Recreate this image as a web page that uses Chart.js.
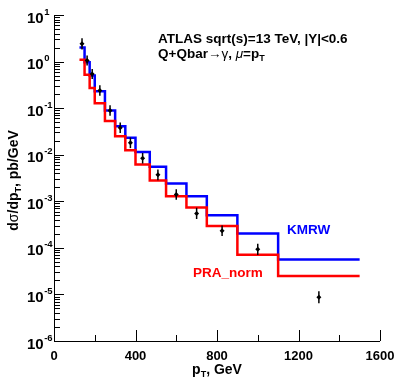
<!DOCTYPE html>
<html>
<head>
<meta charset="utf-8">
<script src="https://cdn.jsdelivr.net/npm/chart.js@4"></script>
<style>
  html, body { margin: 0; padding: 0; background: #fff; }
  #wrap { width: 396px; height: 378px; position: relative; }
</style>
</head>
<body>
<div id="wrap"><canvas id="chart"></canvas></div>
<script>
// bin edges (GeV) of the step histograms
const binEdges = [125, 150, 175, 200, 250, 300, 350, 400, 470, 550, 650, 750, 900, 1100, 1500];
const kmrw = [2.0, 0.97, 0.50, 0.23, 0.089, 0.041, 0.023, 0.0114, 0.0055, 0.0024, 0.00129, 0.0005, 0.000204, 5.6e-5];
const praNorm = [1.1, 0.52, 0.27, 0.128, 0.053, 0.025, 0.0124, 0.0062, 0.0028, 0.00129, 0.00074, 0.000294, 7.1e-5, 2.5e-5];

// ATLAS points
const dataPt = [137.5, 162.5, 187.5, 225, 275, 325, 375, 435, 510, 600, 700, 825, 1000, 1300];
const dataVal = [2.4, 1.05, 0.54, 0.24, 0.089, 0.038, 0.018, 0.0084, 0.0037, 0.0014, 0.00055, 0.000233, 9.3e-5, 8.7e-6];
const dataErr = [0.32, 0.28, 0.28, 0.3, 0.3, 0.3, 0.3, 0.3, 0.3, 0.3, 0.32, 0.3, 0.32, 0.35];

const xTicks = [0, 400, 800, 1200, 1600];
const xMinor = [200, 600, 1000, 1400];
const yDecades = [-6, -5, -4, -3, -2, -1, 0, 1];

const FONT = "'Liberation Sans', Arial, sans-serif";

const stepData = (vals) => binEdges.map((e, i) => ({ x: e, y: vals[Math.min(i, vals.length - 1)] }));

const axesPlugin = {
  id: "rootAxes",
  afterDatasetsDraw(chart) {
    const ctx = chart.ctx;
    const xs = chart.scales.x;
    const ys = chart.scales.y;

    // error bars
    ctx.save();
    ctx.strokeStyle = "#000";
    ctx.lineWidth = 1.5;
    dataPt.forEach((x, i) => {
      const px = xs.getPixelForValue(x);
      const lo = ys.getPixelForValue(dataVal[i] / (1 + dataErr[i]));
      const hi = ys.getPixelForValue(dataVal[i] * (1 + dataErr[i]));
      ctx.beginPath();
      ctx.moveTo(px, lo);
      ctx.lineTo(px, hi);
      ctx.stroke();
    });
    ctx.restore();
  },
  afterDraw(chart) {
    const ctx = chart.ctx;
    const xs = chart.scales.x;
    const ys = chart.scales.y;
    const area = chart.chartArea;
    ctx.save();
    ctx.strokeStyle = "#000";
    ctx.fillStyle = "#000";
    ctx.lineWidth = 1;

    // axis lines
    ctx.beginPath();
    ctx.moveTo(area.left + 0.5, area.top);
    ctx.lineTo(area.left + 0.5, area.bottom + 0.5);
    ctx.lineTo(area.right, area.bottom + 0.5);
    ctx.stroke();

    // x ticks
    ctx.beginPath();
    xTicks.forEach(v => {
      const px = Math.round(xs.getPixelForValue(v)) + 0.5;
      ctx.moveTo(px, area.bottom);
      ctx.lineTo(px, area.bottom - 11);
    });
    xMinor.forEach(v => {
      const px = Math.round(xs.getPixelForValue(v)) + 0.5;
      ctx.moveTo(px, area.bottom);
      ctx.lineTo(px, area.bottom - 6);
    });
    // y ticks (log)
    yDecades.forEach(d => {
      const py = Math.round(ys.getPixelForValue(Math.pow(10, d))) + 0.5;
      ctx.moveTo(area.left, py);
      ctx.lineTo(area.left + 10, py);
      if (d < 1) {
        for (let k = 2; k <= 9; k++) {
          const pm = Math.round(ys.getPixelForValue(k * Math.pow(10, d))) + 0.5;
          ctx.moveTo(area.left, pm);
          ctx.lineTo(area.left + 6, pm);
        }
      }
    });
    ctx.stroke();

    // x labels
    ctx.font = "bold 13px " + FONT;
    ctx.textAlign = "center";
    ctx.textBaseline = "alphabetic";
    xTicks.forEach(v => {
      ctx.fillText(String(v), xs.getPixelForValue(v), 360);
    });

    // y labels 10^n
    yDecades.forEach(d => {
      const py = ys.getPixelForValue(Math.pow(10, d));
      ctx.textAlign = "left";
      ctx.font = "bold 15px " + FONT;
      ctx.fillText("10", 27, py + 7.5);
      const w = ctx.measureText("10").width;
      ctx.font = "bold 9.5px " + FONT;
      ctx.fillText(String(d), 27 + w + 0.5, py - 0.5);
    });

    // x title
    ctx.font = "bold 14px " + FONT;
    ctx.textAlign = "left";
    const pW = ctx.measureText("p").width;
    ctx.font = "bold 9px " + FONT;
    const tW = ctx.measureText("T").width;
    ctx.font = "bold 14px " + FONT;
    const restW = ctx.measureText(", GeV").width;
    const x0 = (area.left + area.right) / 2 - (pW + tW + restW) / 2;
    ctx.fillText("p", x0, 374);
    ctx.font = "bold 9px " + FONT;
    ctx.fillText("T", x0 + pW, 377);
    ctx.font = "bold 14px " + FONT;
    ctx.fillText(", GeV", x0 + pW + tW, 374);

    // y title (rotated)
    ctx.save();
    ctx.translate(18, 180);
    ctx.rotate(-Math.PI / 2);
    const parts = [["d", 14, 0], ["\u03c3", 14, 0], ["/dp", 14, 0], ["T", 9, 3], [", pb/GeV", 14, 0]];
    let total = 0;
    parts.forEach(p => { ctx.font = "bold " + p[1] + "px " + FONT; total += ctx.measureText(p[0]).width; });
    let cx = -total / 2;
    parts.forEach(p => {
      ctx.font = (p[0] === "\u03c3" ? "" : "bold ") + p[1] + "px " + FONT;
      ctx.fillText(p[0], cx, p[2]);
      cx += ctx.measureText(p[0]).width;
    });
    ctx.restore();

    // annotations
    ctx.textAlign = "left";
    ctx.font = "bold 13.5px " + FONT;
    ctx.fillText("ATLAS sqrt(s)=13 TeV, |Y|<0.6", 158, 42.5);
    let ax = 158;
    const seg = [["Q+Qbar", "bold 13.5px ", 0], ["\u2192", "bold 13.5px ", 0], ["\u03b3", "13.5px ", 0], [", ", "bold 13.5px ", 0],
                 ["\u03bc", "italic 13.5px ", 0], ["=p", "bold 13.5px ", 0], ["T", "bold 9px ", 3]];
    seg.forEach(s => {
      ctx.font = s[1] + FONT;
      ctx.fillText(s[0], ax, 58 + s[2]);
      ax += ctx.measureText(s[0]).width;
    });

    ctx.fillStyle = "#0000ff";
    ctx.font = "bold 13.5px " + FONT;
    ctx.fillText("KMRW", 287, 234);
    ctx.fillStyle = "#ff0000";
    ctx.fillText("PRA_norm", 193, 277);
    ctx.restore();
  }
};

new Chart(document.getElementById("chart"), {
  type: "scatter",
  data: {
    datasets: [
      {
        label: "ATLAS",
        data: dataPt.map((x, i) => ({ x: x, y: dataVal[i] })),
        pointStyle: "rectRot",
        pointRadius: 2.5,
        backgroundColor: "#000",
        borderColor: "#000",
        borderWidth: 0,
        showLine: false
      },
      {
        label: "PRA_norm",
        type: "line",
        data: stepData(praNorm),
        stepped: "before",
        borderColor: "#ff0000",
        borderWidth: 2.5,
        pointRadius: 0,
        fill: false
      },
      {
        label: "KMRW",
        type: "line",
        data: stepData(kmrw),
        stepped: "before",
        borderColor: "#0000ff",
        borderWidth: 2.5,
        pointRadius: 0,
        fill: false
      }
    ]
  },
  options: {
    responsive: true,
    maintainAspectRatio: false,
    animation: false,
    layout: { padding: { top: 15, right: 16, left: 0, bottom: 0 } },
    plugins: { legend: { display: false }, tooltip: { enabled: false } },
    scales: {
      x: {
        type: "linear", min: 0, max: 1600,
        ticks: { display: false }, grid: { display: false }, border: { display: false },
        afterFit: (s) => { s.height = 37; }
      },
      y: {
        type: "logarithmic", min: 1e-6, max: 10,
        ticks: { display: false }, grid: { display: false }, border: { display: false },
        afterFit: (s) => { s.width = 54; }
      }
    }
  },
  plugins: [axesPlugin]
});
</script>
</body>
</html>
